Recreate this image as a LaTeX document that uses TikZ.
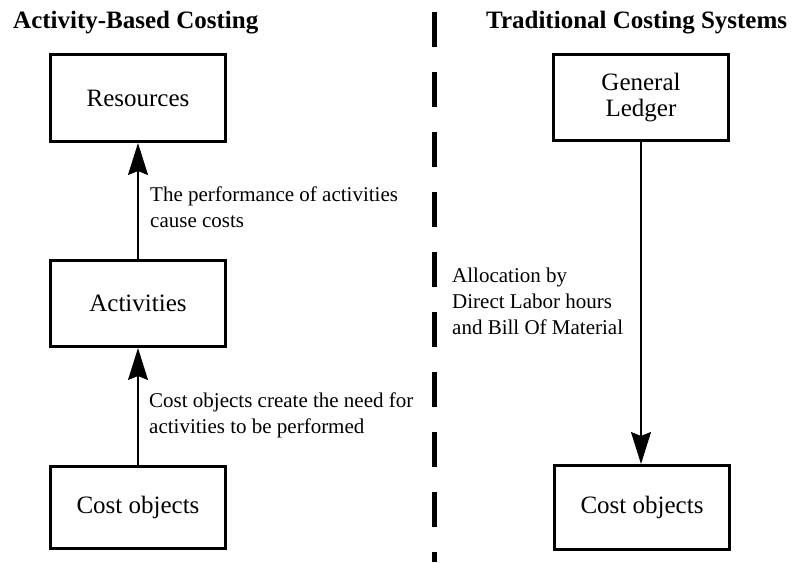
\documentclass[tikz,border=0pt]{standalone}
\usepackage{fontspec}
\setmainfont{Liberation Serif}
\usetikzlibrary{arrows.meta}
\tikzset{
  box/.style={draw, line width=3pt, minimum width=175pt, inner sep=0pt, align=center,
    font=\fontsize{25}{28}\selectfont},
  lbl/.style={anchor=base west, inner sep=0pt, align=left,
    font=\fontsize{21}{25.7}\selectfont},
  ttl/.style={anchor=base west, inner sep=0pt, font=\fontsize{25}{28}\selectfont\bfseries},
  conn/.style={line width=1.5pt, -{Stealth[length=32pt,width=20pt,inset=4pt]}},
  sep/.style={line width=5pt, dash pattern=on 35pt off 25pt}
}
\begin{document}
\begin{tikzpicture}[x=1pt,y=-1pt]
\useasboundingbox (0,0) rectangle (797,562);
\node[ttl] (t1) at (13,28) {Activity-Based Costing};
\node[ttl] (t2) at (486,28) {Traditional Costing Systems};
\coordinate (s1) at (434.5,12);
\coordinate (s2) at (434.5,562);
\draw[sep] (s1) -- (s2);
\node[box, minimum height=87pt] (res) at (138,98) {Resources};
\node[box, minimum height=86pt] (act) at (138,303.5) {Activities};
\node[box, minimum height=82pt] (co1) at (138,507.5) {Cost objects};
\node[box, minimum height=86pt] (gl) at (641,97.5) {General\\[-2pt]Ledger};
\node[box, minimum height=84pt] (co2) at (642,507.5) {Cost objects};
\draw[conn] (act.north) -- (res.south);
\draw[conn] (co1.north) -- (act.south);
\draw[conn] (gl.south) -- (gl.south |- co2.north);
\node[lbl] (l1) at (150,227) {The performance of activities\\cause costs};
\node[lbl] (l2) at (452,334) {Allocation by\\Direct Labor hours\\and Bill Of Material};
\node[lbl] (l3) at (149,433) {Cost objects create the need for\\activities to be performed};
\end{tikzpicture}
\end{document}
